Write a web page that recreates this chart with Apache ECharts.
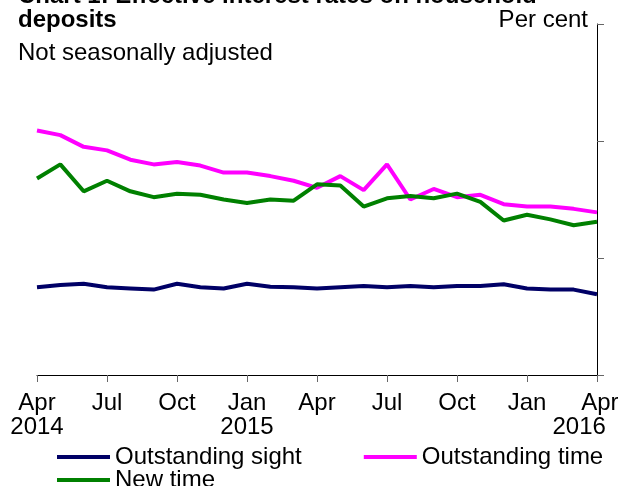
<!DOCTYPE html>
<html>
<head>
<meta charset="utf-8">
<script src="https://cdn.jsdelivr.net/npm/echarts@6/dist/echarts.min.js"></script>
<style>
  html, body { margin: 0; padding: 0; background: #fff; }
  #chart { width: 618px; height: 486px; }
</style>
</head>
<body>
<div id="chart"></div>
<script>
// monthly, Apr 2014 - Apr 2016
var months = ['Apr\n2014', 'May', 'Jun', 'Jul', 'Aug', 'Sep', 'Oct', 'Nov', 'Dec',
  'Jan\n2015', 'Feb', 'Mar', 'Apr', 'May', 'Jun', 'Jul', 'Aug', 'Sep', 'Oct', 'Nov', 'Dec',
  'Jan', 'Feb', 'Mar', 'Apr\n2016']

var outstandingSight = [0.75, 0.77, 0.78, 0.75, 0.74, 0.73, 0.78, 0.75, 0.74, 0.78, 0.755, 0.75, 0.74,
  0.75, 0.76, 0.75, 0.76, 0.75, 0.76, 0.76, 0.775, 0.74, 0.73, 0.73, 0.69]
var outstandingTime = [2.09, 2.05, 1.95, 1.92, 1.84, 1.80, 1.82, 1.79, 1.73, 1.73, 1.70, 1.66, 1.60,
  1.70, 1.58, 1.80, 1.50, 1.59, 1.52, 1.54, 1.46, 1.44, 1.44, 1.42, 1.39]
var newTime = [1.68, 1.80, 1.57, 1.66, 1.57, 1.52, 1.55, 1.54, 1.50, 1.47, 1.50, 1.49, 1.63,
  1.62, 1.44, 1.51, 1.53, 1.51, 1.55, 1.48, 1.32, 1.37, 1.33, 1.28, 1.31]

var font = 'Liberation Sans, Arial, sans-serif'
var chart = echarts.init(document.getElementById('chart'))

chart.setOption({
  animation: false,
  graphic: [
    { type: 'text', x: 18, y: -16, style: { text: 'Chart 1: Effective interest rates on household', font: 'bold 24px ' + font, fill: '#000' } },
    { type: 'text', x: 18, y: 8, style: { text: 'deposits', font: 'bold 24px ' + font, fill: '#000' } },
    { type: 'text', x: 18, y: 41, style: { text: 'Not seasonally adjusted', font: '24px ' + font, fill: '#000' } },
    { type: 'text', x: 588, y: 8, style: { text: 'Per cent', font: '24px ' + font, fill: '#000', align: 'right' } }
  ],
  legend: [{
    data: ['Outstanding sight', 'Outstanding time'],
    left: 57,
    top: 445,
    padding: 0,
    icon: 'rect',
    itemWidth: 53,
    itemHeight: 4,
    itemGap: 62,
    textStyle: { fontFamily: font, fontSize: 24, color: '#000', padding: [0, 0, 0, 0] }
  }, {
    data: ['New time'],
    left: 57,
    top: 468,
    padding: 0,
    icon: 'rect',
    itemWidth: 53,
    itemHeight: 4,
    textStyle: { fontFamily: font, fontSize: 24, color: '#000', padding: [0, 0, 0, 0] }
  }],
  grid: { left: 37, right: 21, top: 24, bottom: 111, outerBoundsMode: 'none', containLabel: false },
  xAxis: {
    type: 'category',
    data: months,
    boundaryGap: false,
    axisLine: { lineStyle: { color: '#000', width: 1 } },
    axisTick: {
      length: 7,
      interval: function (i) { return i % 3 === 0 },
      lineStyle: { color: '#666' }
    },
    axisLabel: {
      interval: function (i) { return i % 3 === 0 },
      fontFamily: font,
      fontSize: 24,
      color: '#000',
      lineHeight: 24,
      margin: 16,
      formatter: function (v, i) {
        if (i === 24) return '{r|' + v.split('\n')[0] + '}\n{r2|' + v.split('\n')[1] + '}'
        return v
      },
      rich: {
        r: { fontFamily: font, fontSize: 24, color: '#000', lineHeight: 24, width: 66, align: 'right', padding: [0, 23, 0, 0] },
        r2: { fontFamily: font, fontSize: 24, color: '#000', lineHeight: 24, width: 66, align: 'left', padding: [0, 23, 0, 0] }
      }
    },
    splitLine: { show: false }
  },
  yAxis: {
    type: 'value',
    position: 'right',
    min: 0,
    max: 3,
    interval: 1,
    axisLine: { show: true, lineStyle: { color: '#000', width: 1 } },
    axisTick: { show: true, inside: false, length: 7, lineStyle: { color: '#666' } },
    axisLabel: { show: false },
    splitLine: { show: false }
  },
  series: [{
    name: 'Outstanding sight',
    type: 'line',
    data: outstandingSight,
    showSymbol: false,
    color: '#000066',
    lineStyle: { width: 4, color: '#000066' }
  }, {
    name: 'Outstanding time',
    type: 'line',
    data: outstandingTime,
    showSymbol: false,
    color: '#ff00ff',
    lineStyle: { width: 4, color: '#ff00ff' }
  }, {
    name: 'New time',
    type: 'line',
    data: newTime,
    showSymbol: false,
    color: '#008000',
    lineStyle: { width: 4, color: '#008000' }
  }]
})
</script>
</body>
</html>
